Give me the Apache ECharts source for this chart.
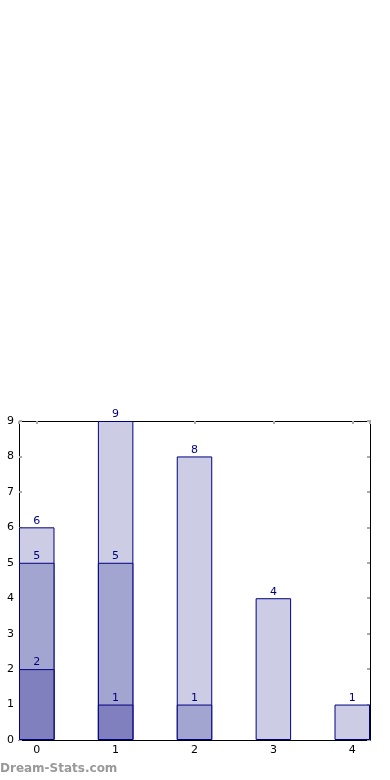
<!DOCTYPE html>
<html><head><meta charset="utf-8">
<script src="https://cdn.jsdelivr.net/npm/echarts@6/dist/echarts.min.js"></script>
<style>html,body{margin:0;padding:0;background:#fff}#c{width:390px;height:780px}</style>
</head><body><div id="c"></div>
<script>
const categories = [0, 1, 2, 3, 4];
const lightValues = [6, 9, 8, 4, 1];
const mediumValues = [5, 5, 1, null, null];
const darkValues = [2, 1, null, null, null];
const yTicks = [0,1,2,3,4,5,6,7,8,9];

const chart = echarts.init(document.getElementById('c'), null, {renderer:'canvas'});
const gridLeft = 19, gridRight = 20, gridTop = 421, gridBottom = 40;
const xMin = -0.225, xMax = 4.225;
const plotW = 390 - gridLeft - gridRight;
const barW = 0.45 * plotW / (xMax - xMin);
const font = 'DejaVu Sans';
function mk(name, vals, color) {
  return {
    name, type: 'bar', barWidth: barW, barGap: '-100%',
    data: categories.map((c, i) => vals[i] == null ? null : [c, vals[i]]),
    itemStyle: {color, borderColor: '#00007f', borderWidth: 1},
    label: {show: true, position: 'top', distance: 1, color: '#00007f', fontFamily: font, fontSize: 11,
      formatter: p => p.value[1]},
    animation: false
  };
}
const intLabel = v => (Math.abs(v - Math.round(v)) < 1e-6 ? String(Math.round(v)) : '');
const tickStyle = {show: true, inside: true, length: 3, lineStyle: {color: '#aaaaaa', width: 2}};
const lineStyle = {show: true, onZero: false, lineStyle: {color: '#000', width: 1}};
chart.setOption({
  animation: false,
  grid: {left: gridLeft, right: gridRight, top: gridTop, bottom: gridBottom},
  xAxis: [
    {type: 'value', min: xMin, max: xMax, position: 'bottom',
      axisLine: lineStyle, axisTick: tickStyle, splitLine: {show: false},
      axisLabel: {formatter: intLabel, color: '#000', fontFamily: font, fontSize: 11, margin: 5, showMinLabel: false, showMaxLabel: false}},
    {type: 'value', min: xMin, max: xMax, position: 'top',
      axisLine: lineStyle, axisTick: tickStyle, splitLine: {show: false}, axisLabel: {show: false}}
  ],
  yAxis: [
    {type: 'value', min: 0, max: 9, interval: 1, position: 'left',
      axisLine: lineStyle, axisTick: tickStyle, splitLine: {show: false},
      axisLabel: {color: '#000', fontFamily: font, fontSize: 11, margin: 5}},
    {type: 'value', min: 0, max: 9, interval: 1, position: 'right',
      axisLine: lineStyle, axisTick: tickStyle, splitLine: {show: false}, axisLabel: {show: false}}
  ],
  graphic: [{type: 'text', left: 0, top: 763,
    style: {text: 'Dream-Stats.com', fill: '#999999', font: 'bold 12px "DejaVu Sans"'}}],
  series: [
    mk('light', lightValues, '#ccccE5'),
    mk('medium', mediumValues, '#a3a5d1'),
    mk('dark', darkValues, '#8080bf')
  ]
});
</script></body></html>
